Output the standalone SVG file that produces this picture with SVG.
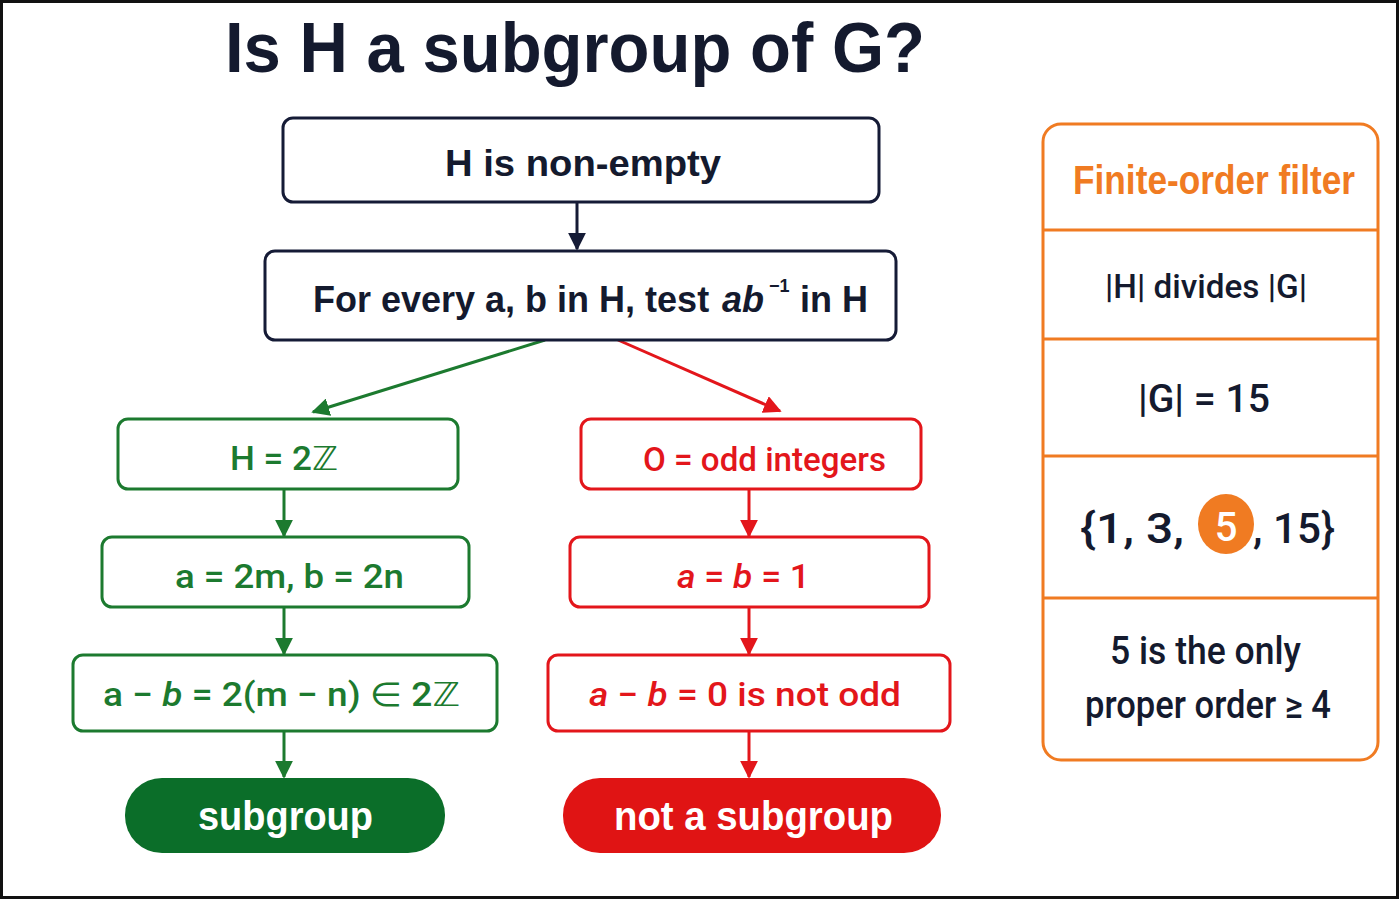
<svg xmlns="http://www.w3.org/2000/svg" width="1400" height="900" viewBox="0 0 1400 900">
<style>
.t{font-family:Roboto,"Liberation Sans","DejaVu Sans",sans-serif;font-weight:500}
.b{font-family:"Liberation Sans",Arial,"DejaVu Sans",sans-serif;font-weight:bold}
.navy{stroke:#151b36;fill:#fff;stroke-width:3}
.grn{stroke:#1c7a2f;fill:#fff;stroke-width:3}
.red{stroke:#e3161b;fill:#fff;stroke-width:3}
.gt{fill:#1c7a2f;font-size:33px}
.rt{fill:#e3161b;font-size:33px}
.dk{fill:#141a2e}
.i{font-style:italic}
</style>
<defs>
<marker id="an" viewBox="0 0 10 10" refX="9" refY="5" markerWidth="6" markerHeight="6" orient="auto"><path d="M0,0L10,5L0,10z" fill="#151b36"/></marker>
<marker id="ag" viewBox="0 0 10 10" refX="9" refY="5" markerWidth="6" markerHeight="6" orient="auto"><path d="M0,0L10,5L0,10z" fill="#1c7a2f"/></marker>
<marker id="ar" viewBox="0 0 10 10" refX="9" refY="5" markerWidth="6" markerHeight="6" orient="auto"><path d="M0,0L10,5L0,10z" fill="#e3161b"/></marker>
</defs>
<rect x="0" y="0" width="1400" height="900" fill="#fff"/>
<rect x="1.5" y="1.5" width="1396" height="896" fill="none" stroke="#111" stroke-width="3"/>

<text id="title" class="b dk" x="225" y="72" font-size="70" textLength="700" lengthAdjust="spacingAndGlyphs">Is H a subgroup of G?</text>

<g id="connectors" stroke-width="3" fill="none">
<line x1="577" y1="202" x2="577" y2="249" stroke="#151b36" marker-end="url(#an)"/>
<line x1="545" y1="340" x2="313" y2="412" stroke="#1c7a2f" marker-end="url(#ag)"/>
<line x1="618" y1="340" x2="780" y2="411" stroke="#e3161b" marker-end="url(#ar)"/>
<line x1="284" y1="489" x2="284" y2="536" stroke="#1c7a2f" marker-end="url(#ag)"/>
<line x1="284" y1="607" x2="284" y2="654" stroke="#1c7a2f" marker-end="url(#ag)"/>
<line x1="284" y1="731" x2="284" y2="777" stroke="#1c7a2f" marker-end="url(#ag)"/>
<line x1="749" y1="489" x2="749" y2="536" stroke="#e3161b" marker-end="url(#ar)"/>
<line x1="749" y1="607" x2="749" y2="654" stroke="#e3161b" marker-end="url(#ar)"/>
<line x1="749" y1="731" x2="749" y2="777" stroke="#e3161b" marker-end="url(#ar)"/>
</g>

<g id="n-nonempty">
<rect class="navy" x="283" y="118" width="596" height="84" rx="10"/>
<text class="b dk" x="445" y="176" font-size="36" textLength="276" lengthAdjust="spacingAndGlyphs">H is non-empty</text>
</g>
<g id="n-test">
<rect class="navy" x="265" y="251" width="631" height="89" rx="10"/>
<text class="b dk" x="313" y="312" font-size="36">For every a, b in H, test</text>
<text class="b dk i" x="722" y="312" font-size="36">ab</text>
<text class="b dk" x="769" y="292" font-size="18">−1</text>
<text class="b dk" x="800" y="312" font-size="36">in H</text>
</g>

<g id="n-h2z">
<rect class="grn" x="118" y="419" width="340" height="70" rx="10"/>
<text class="t gt" x="230" y="470" textLength="108" lengthAdjust="spacingAndGlyphs">H = 2ℤ</text>
</g>
<g id="n-a2m">
<rect class="grn" x="102" y="537" width="367" height="70" rx="10"/>
<text class="t gt" x="175" y="588" textLength="229" lengthAdjust="spacingAndGlyphs">a = 2m, b = 2n</text>
</g>
<g id="n-amb">
<rect class="grn" x="73" y="655" width="424" height="76" rx="10"/>
<text class="t gt" x="103" y="706" textLength="357" lengthAdjust="spacingAndGlyphs">a − <tspan class="i">b</tspan> = 2(m − n) ∈ 2ℤ</text>
</g>
<g id="n-subgroup">
<rect x="125" y="778" width="320" height="75" rx="37" fill="#0b6e29"/>
<text class="b" x="198" y="830" font-size="40" fill="#fff" textLength="175" lengthAdjust="spacingAndGlyphs">subgroup</text>
</g>

<g id="n-odd">
<rect class="red" x="581" y="419" width="340" height="70" rx="10"/>
<text class="t rt" x="643" y="471" textLength="243" lengthAdjust="spacingAndGlyphs">O = odd integers</text>
</g>
<g id="n-ab1">
<rect class="red" x="570" y="537" width="359" height="70" rx="10"/>
<text class="t rt" x="677" y="588" textLength="133" lengthAdjust="spacingAndGlyphs"><tspan class="i">a</tspan> = <tspan class="i">b</tspan> = 1</text>
</g>
<g id="n-notodd">
<rect class="red" x="548" y="655" width="402" height="76" rx="10"/>
<text class="t rt" x="589" y="706" textLength="312" lengthAdjust="spacingAndGlyphs"><tspan class="i">a</tspan> − <tspan class="i">b</tspan> = 0 is not odd</text>
</g>
<g id="n-notsub">
<rect x="563" y="778" width="378" height="75" rx="37" fill="#e01414"/>
<text class="b" x="614" y="830" font-size="40" fill="#fff" textLength="279" lengthAdjust="spacingAndGlyphs">not a subgroup</text>
</g>

<g id="panel">
<rect x="1043" y="124" width="335" height="636" rx="18" fill="#fff" stroke="#f07b22" stroke-width="3"/>
<g stroke="#f07b22" stroke-width="3">
<line x1="1043" y1="230" x2="1378" y2="230"/>
<line x1="1043" y1="339" x2="1378" y2="339"/>
<line x1="1043" y1="456" x2="1378" y2="456"/>
<line x1="1043" y1="598" x2="1378" y2="598"/>
</g>
<text class="b" x="1073" y="194" font-size="40" fill="#f07b22" textLength="282" lengthAdjust="spacingAndGlyphs">Finite-order filter</text>
<text class="t dk" x="1105" y="298" font-size="34" textLength="202" lengthAdjust="spacingAndGlyphs">|H| divides |G|</text>
<text class="t dk" x="1138" y="412" font-size="38" textLength="132" lengthAdjust="spacingAndGlyphs">|G| = 15</text>
<ellipse cx="1226" cy="524" rx="28" ry="30" fill="#f07b22"/>
<text class="t dk" x="1080" y="543" font-size="42" textLength="104" lengthAdjust="spacingAndGlyphs">{1, 3,</text>
<text class="t" x="1226" y="541" font-size="40" fill="#fff" text-anchor="middle">5</text>
<text class="t dk" x="1253" y="543" font-size="42" textLength="82" lengthAdjust="spacingAndGlyphs">, 15}</text>
<text class="t dk" x="1110" y="664" font-size="38" textLength="191" lengthAdjust="spacingAndGlyphs">5 is the only</text>
<text class="t dk" x="1085" y="718" font-size="38" textLength="246" lengthAdjust="spacingAndGlyphs">proper order ≥ 4</text>
</g>
</svg>
